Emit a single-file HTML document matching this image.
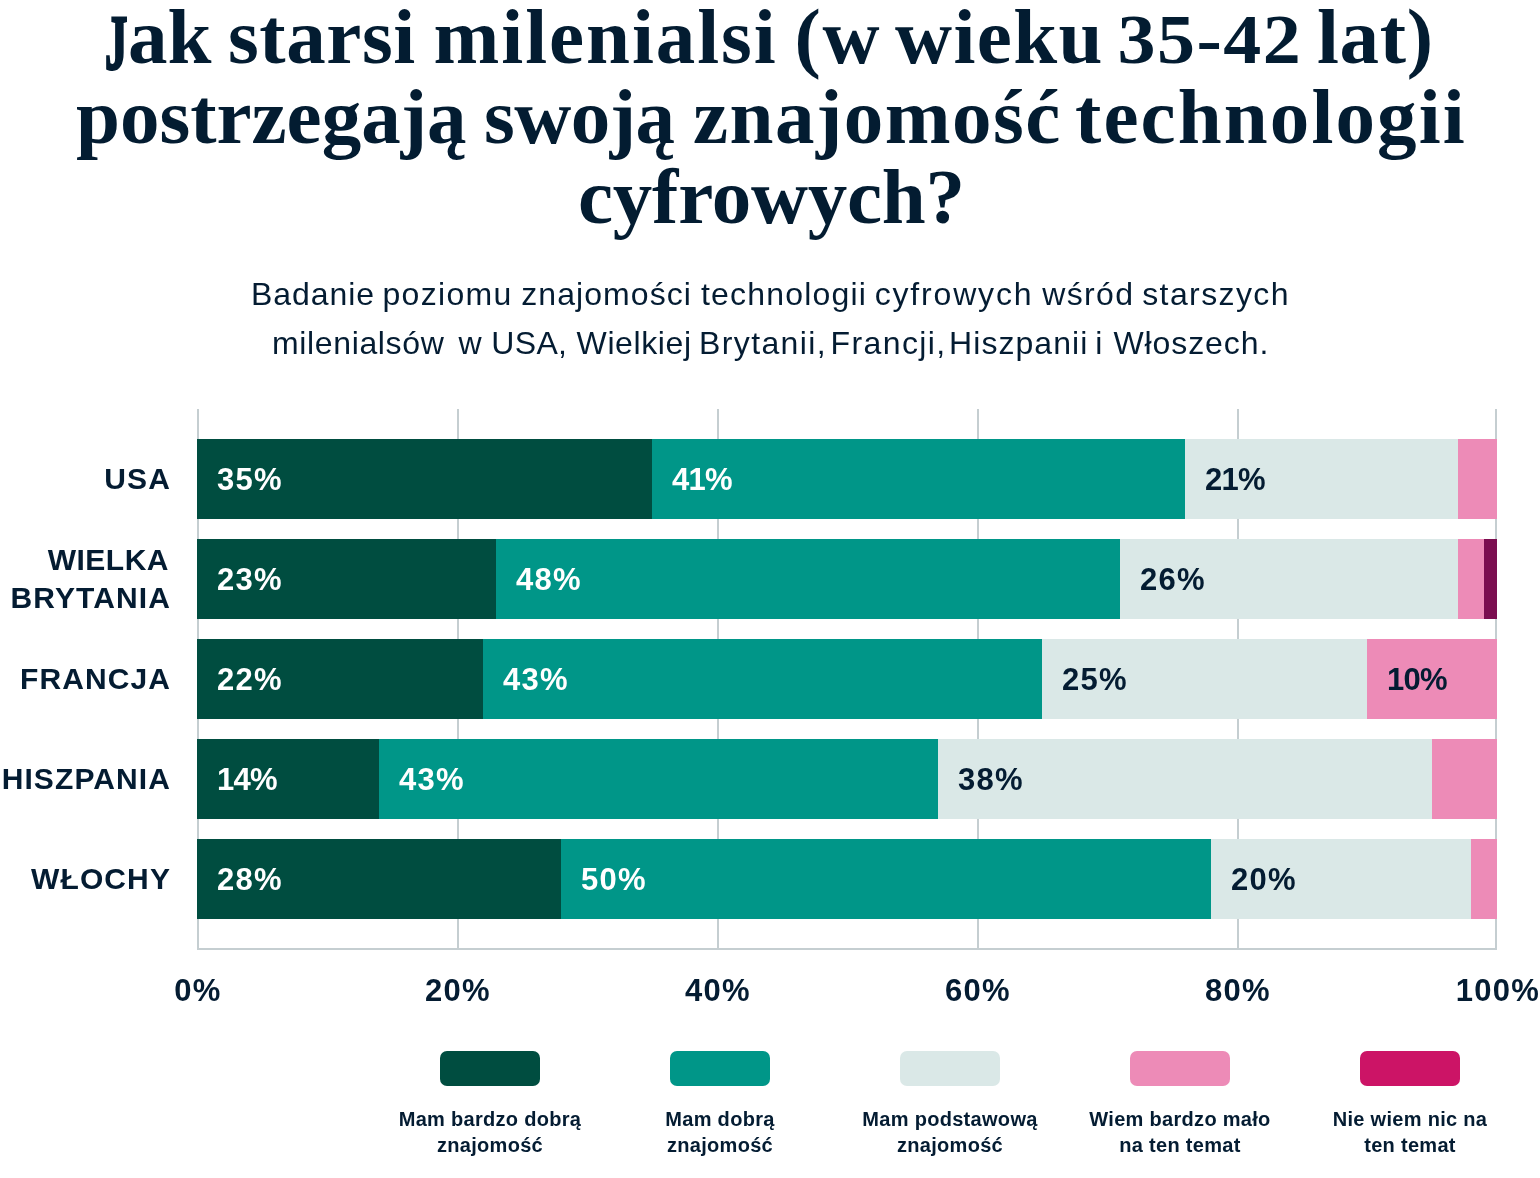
<!DOCTYPE html>
<html lang="pl"><head><meta charset="utf-8"><title>Jak starsi milenialsi postrzegają swoją znajomość technologii cyfrowych?</title>
<style>
html,body{margin:0;padding:0;background:#fff;}
body{width:1540px;height:1178px;position:relative;overflow:hidden;font-family:"Liberation Sans",sans-serif;color:#041c32;}
.abs{position:absolute;white-space:nowrap;}
h1{position:absolute;left:0;top:-3px;width:1540px;margin:0;text-align:center;font-family:"Liberation Serif",serif;font-weight:700;font-size:79px;line-height:80px;color:#031c31;}
h1 .ln{display:block;position:relative;height:80px;text-align:left;}
h1 .w{position:absolute;top:0;white-space:nowrap;}
h1 .cap{font-size:70px;line-height:0;}
h1 .dig{display:inline-block;line-height:0;font-size:76px;transform:scaleY(.921);transform-origin:0 25.65px;}
h1 .capj{display:inline-block;transform:scale(.64,1.13);transform-origin:0 -21.2px;margin-left:1px;margin-right:-12px;-webkit-text-stroke:2.6px #031c31;}
.sub{position:absolute;left:0;width:1540px;top:270px;text-align:center;font-size:32px;line-height:49px;margin:0;}
.sub .ln{display:block;position:relative;height:49px;text-align:left;}
.sub .w{position:absolute;top:0;white-space:nowrap;}
.grid{position:absolute;top:409px;height:540px;width:2px;background:#c5ced1;}
.axis{position:absolute;left:197px;top:948px;width:1300px;height:2px;background:#c5ced1;}
.bar{position:absolute;left:197px;height:80px;width:1300px;}
.seg{position:absolute;top:0;height:80px;}
.val{position:absolute;left:20px;top:1px;line-height:80px;font-size:31px;font-weight:700;letter-spacing:1.25px;white-space:nowrap;}
.cat{position:absolute;right:1369px;text-align:right;font-size:30px;font-weight:700;letter-spacing:1.1px;line-height:38px;white-space:nowrap;}
.tick{position:absolute;top:971px;width:200px;margin-left:-100px;text-align:center;font-size:31px;font-weight:700;letter-spacing:1.25px;line-height:40px;white-space:nowrap;}
.sw{position:absolute;top:1051px;width:100px;height:35px;border-radius:7px;}
.leg{position:absolute;top:1106px;width:230px;margin-left:-115px;text-align:center;font-size:20px;font-weight:700;line-height:26px;letter-spacing:.3px;}
.leg span{display:block;white-space:nowrap;}
</style></head><body>
<h1><span class="ln"><span class="w" style="left:104px;letter-spacing:0px"><span class="cap capj">J</span>ak</span> <span class="w" style="left:228px;letter-spacing:0.6px">starsi</span> <span class="w" style="left:433.5px;letter-spacing:1.94px">milenialsi</span> <span class="w" style="left:794.6px;letter-spacing:1.6px">(w</span> <span class="w" style="left:895px;letter-spacing:1.38px">wieku</span> <span class="w" style="left:1117.4px;letter-spacing:1.5px"><span class="dig">35-42</span></span> <span class="w" style="left:1317px;letter-spacing:0.67px">lat)</span></span>
<span class="ln"><span class="w" style="left:76px;letter-spacing:0px">postrzegają</span> <span class="w" style="left:484px;letter-spacing:-0.5px">swoją</span> <span class="w" style="left:693px;letter-spacing:1.5px">znajomość</span> <span class="w" style="left:1075px;letter-spacing:2.1px">technologii</span></span>
<span class="ln"><span class="w" style="left:578px;letter-spacing:-0.22px">cyfrowych?</span></span>
</h1>
<p class="sub"><span class="ln"><span class="w" style="left:251px;letter-spacing:0.92px">Badanie</span> <span class="w" style="left:382.5px;letter-spacing:1.3px">poziomu</span> <span class="w" style="left:521.3px;letter-spacing:1.06px">znajomości</span> <span class="w" style="left:701px;letter-spacing:1.18px">technologii</span> <span class="w" style="left:874.7px;letter-spacing:1.82px">cyfrowych</span> <span class="w" style="left:1042.3px;letter-spacing:1.32px">wśród</span> <span class="w" style="left:1142.2px;letter-spacing:1.4px">starszych</span></span>
<span class="ln"><span class="w" style="left:272px;letter-spacing:0.64px">milenialsów</span> <span class="w" style="left:458.5px;letter-spacing:0px">w</span> <span class="w" style="left:491.2px;letter-spacing:0.37px">USA,</span> <span class="w" style="left:576.6px;letter-spacing:0.6px">Wielkiej</span> <span class="w" style="left:699px;letter-spacing:1.38px">Brytanii,</span> <span class="w" style="left:830.6px;letter-spacing:1.39px">Francji,</span> <span class="w" style="left:949.1px;letter-spacing:1.04px">Hiszpanii</span> <span class="w" style="left:1095.3px;letter-spacing:0px">i</span> <span class="w" style="left:1113.4px;letter-spacing:0.92px">Włoszech.</span></span>
</p>
<div class="grid" style="left:197px"></div><div class="grid" style="left:457px"></div><div class="grid" style="left:717px"></div><div class="grid" style="left:977px"></div><div class="grid" style="left:1237px"></div><div class="grid" style="left:1495px"></div>
<div class="axis"></div>
<div class="cat" id="c0" style="top:460px">USA</div>
<div class="bar" style="top:439px"><div class="seg" style="left:0px;width:455px;background:#004d40"><span class="val" style="color:#fff">35%</span></div><div class="seg" style="left:455px;width:533px;background:#009688"><span class="val" style="color:#fff;letter-spacing:-.7px">41%</span></div><div class="seg" style="left:988px;width:273px;background:#dae8e7"><span class="val" style="color:#041c32;letter-spacing:-.7px">21%</span></div><div class="seg" style="left:1261px;width:39px;background:#ed8bb7"></div></div>
<div class="cat" id="c1" style="top:541px"><span style="margin-right:2px;letter-spacing:.5px">WIELKA</span><br>BRYTANIA</div>
<div class="bar" style="top:539px"><div class="seg" style="left:0px;width:299px;background:#004d40"><span class="val" style="color:#fff">23%</span></div><div class="seg" style="left:299px;width:624px;background:#009688"><span class="val" style="color:#fff">48%</span></div><div class="seg" style="left:923px;width:338px;background:#dae8e7"><span class="val" style="color:#041c32">26%</span></div><div class="seg" style="left:1261px;width:26px;background:#ed8bb7"></div><div class="seg" style="left:1287px;width:13px;background:#7b0e50"></div></div>
<div class="cat" id="c2" style="top:660px">FRANCJA</div>
<div class="bar" style="top:639px"><div class="seg" style="left:0px;width:286px;background:#004d40"><span class="val" style="color:#fff">22%</span></div><div class="seg" style="left:286px;width:559px;background:#009688"><span class="val" style="color:#fff">43%</span></div><div class="seg" style="left:845px;width:325px;background:#dae8e7"><span class="val" style="color:#041c32">25%</span></div><div class="seg" style="left:1170px;width:130px;background:#ed8bb7"><span class="val" style="color:#041c32;letter-spacing:-.7px">10%</span></div></div>
<div class="cat" id="c3" style="top:760px">HISZPANIA</div>
<div class="bar" style="top:739px"><div class="seg" style="left:0px;width:182px;background:#004d40"><span class="val" style="color:#fff;letter-spacing:-.7px">14%</span></div><div class="seg" style="left:182px;width:559px;background:#009688"><span class="val" style="color:#fff">43%</span></div><div class="seg" style="left:741px;width:494px;background:#dae8e7"><span class="val" style="color:#041c32">38%</span></div><div class="seg" style="left:1235px;width:65px;background:#ed8bb7"></div></div>
<div class="cat" id="c4" style="top:860px">WŁOCHY</div>
<div class="bar" style="top:839px"><div class="seg" style="left:0px;width:364px;background:#004d40"><span class="val" style="color:#fff">28%</span></div><div class="seg" style="left:364px;width:650px;background:#009688"><span class="val" style="color:#fff">50%</span></div><div class="seg" style="left:1014px;width:260px;background:#dae8e7"><span class="val" style="color:#041c32">20%</span></div><div class="seg" style="left:1274px;width:26px;background:#ed8bb7"></div></div>
<div class="tick" style="left:198px">0%</div><div class="tick" style="left:458px">20%</div><div class="tick" style="left:718px">40%</div><div class="tick" style="left:978px">60%</div><div class="tick" style="left:1238px">80%</div><div class="tick" style="left:1498px">100%</div>
<div class="sw" style="left:440px;background:#004d40"></div><div class="leg" id="l0" style="left:490px"><span>Mam bardzo dobrą</span><span>znajomość</span></div>
<div class="sw" style="left:670px;background:#009688"></div><div class="leg" id="l1" style="left:720px"><span>Mam dobrą</span><span>znajomość</span></div>
<div class="sw" style="left:900px;background:#dae8e7"></div><div class="leg" id="l2" style="left:950px"><span>Mam podstawową</span><span>znajomość</span></div>
<div class="sw" style="left:1130px;background:#ed8bb7"></div><div class="leg" id="l3" style="left:1180px"><span>Wiem bardzo mało</span><span>na ten temat</span></div>
<div class="sw" style="left:1360px;background:#cc1466"></div><div class="leg" id="l4" style="left:1410px"><span>Nie wiem nic na</span><span>ten temat</span></div>
</body></html>
